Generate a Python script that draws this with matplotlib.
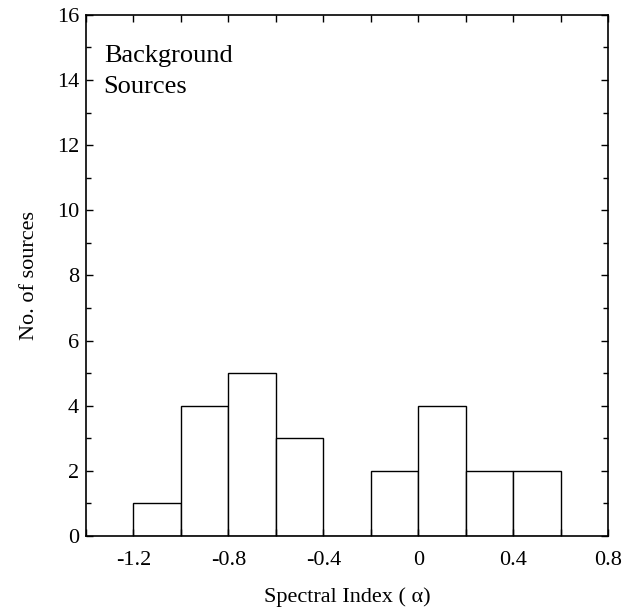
import matplotlib
matplotlib.use('Agg')
import matplotlib.pyplot as plt
from matplotlib.ticker import MultipleLocator

plt.rcParams['font.family'] = ['Liberation Serif', 'DejaVu Serif']

# histogram of spectral index, bin width 0.2
bin_left = [-1.2, -1.0, -0.8, -0.6, -0.4, -0.2, 0.0, 0.2, 0.4]
counts   = [1, 4, 5, 3, 0, 2, 4, 2, 2]
bin_width = 0.2

xticks = [-1.2, -0.8, -0.4, 0, 0.4, 0.8]
xtick_labels = ['-1.2', '-0.8', '-0.4', '0', '0.4', '0.8']
yticks = [0, 2, 4, 6, 8, 10, 12, 14, 16]

fig = plt.figure(figsize=(6.37, 6.09), dpi=100)
ax = fig.add_axes([0.135, 0.12, 0.8195, 0.8555])

ax.bar(bin_left, counts, width=bin_width, align='edge',
       facecolor='white', edgecolor='black', linewidth=1.0)

ax.set_xlim(-1.4, 0.8)
ax.set_ylim(0, 16)
ax.set_xticks(xticks)
ax.set_xticklabels(xtick_labels)
ax.set_yticks(yticks)
ax.xaxis.set_minor_locator(MultipleLocator(0.2))
ax.yaxis.set_minor_locator(MultipleLocator(1))

ax.tick_params(which='both', direction='in', top=True, right=True,
               labelsize=16, width=1.0)
ax.tick_params(which='major', length=5)
ax.tick_params(which='minor', length=3.5)
ax.tick_params(axis='x', which='minor', length=5)
ax.tick_params(axis='x', pad=11)
ax.tick_params(axis='y', pad=5)
for s in ax.spines.values():
    s.set_linewidth(1.2)

ax.set_xlabel('Spectral Index ( α)', fontsize=16, labelpad=12)
ax.set_ylabel('No. of sources', fontsize=16, labelpad=13)

ax.text(0.034, 0.910, 'Background', transform=ax.transAxes,
        fontsize=19, va='baseline', ha='left')
ax.text(0.034, 0.850, 'Sources', transform=ax.transAxes,
        fontsize=19, va='baseline', ha='left')

fig.savefig('out.png', dpi=100)
